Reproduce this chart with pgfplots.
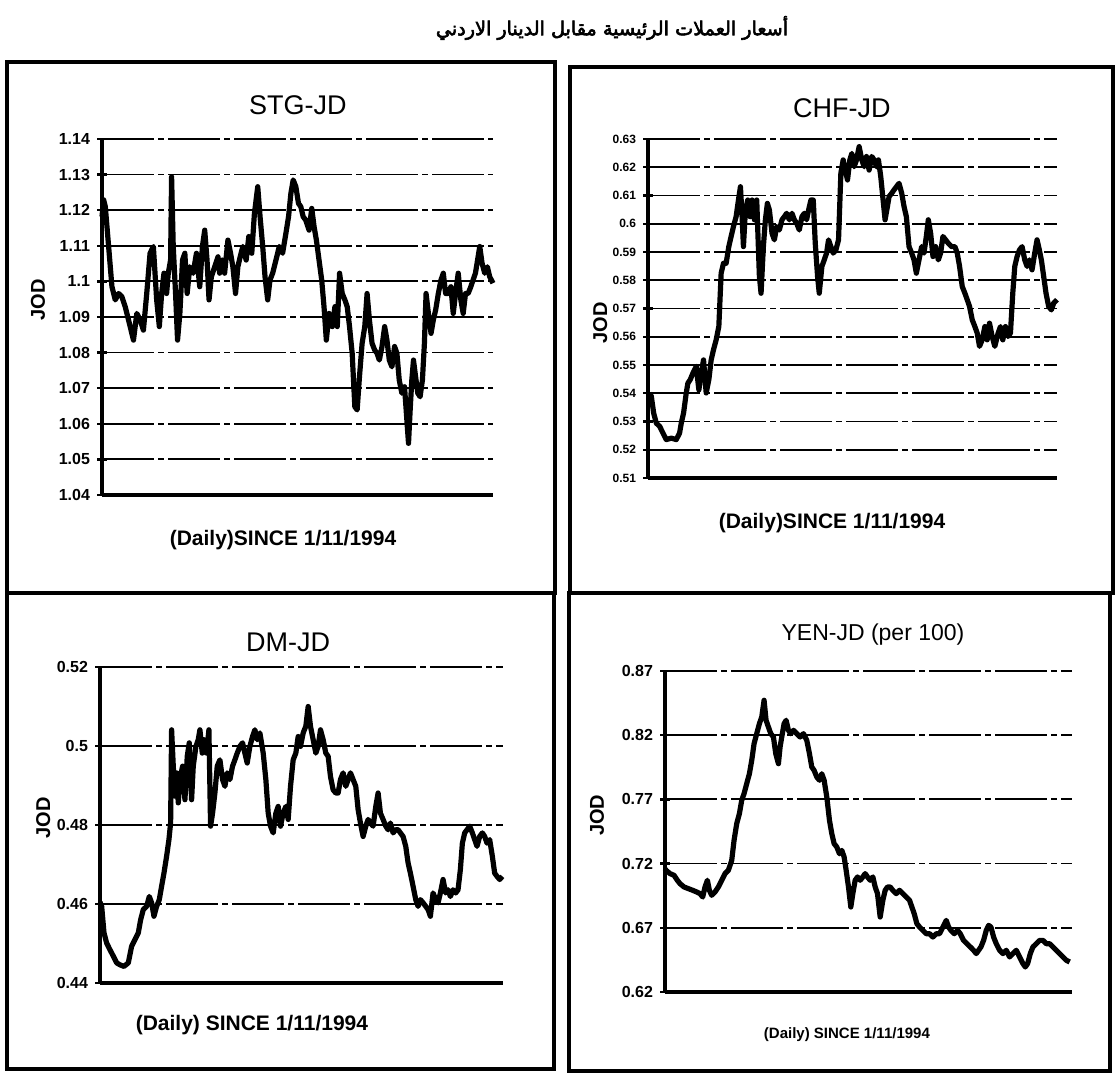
\documentclass[border=0pt]{standalone}
\usepackage{pgfplots}
\pgfplotsset{compat=1.18}
\usepackage{fontspec}
\setmainfont{Liberation Sans}
\newfontfamily\arabicfont[Script=Arabic,FakeBold=3]{DejaVu Sans}
\TeXXeTstate=1
\pgfplotsset{
  panel/.style={
    scale only axis,
    axis x line=bottom, axis y line=left,
    axis line style={-, line width=1.6pt, black},
    xtick=\empty,
    enlargelimits=false,
    ymajorgrids,
    major grid style={black, line width=0.9pt, dash pattern=on 26pt off 2pt on 3pt off 2pt},
    tick align=center,
    major tick length=5pt,
    tick style={black, line width=1.2pt},
    /pgf/number format/assume math mode=true,
    yticklabel style={font=\bfseries\fontsize{8}{9}\selectfont},
    title style={font=\fontsize{13.5}{16}\selectfont, anchor=center, yshift=-6pt},
    xlabel style={font=\bfseries\fontsize{10.5}{12}\selectfont, anchor=center},
    ylabel style={font=\bfseries\fontsize{10}{12}\selectfont, anchor=center},
    ylabel=JOD,
    clip=false,
  },
  series/.style={black, line width=2.6pt, line join=round, no marks},
}
\begin{document}
\begin{tikzpicture}
\useasboundingbox (0,0) rectangle (557.5pt,538.5pt);
% panel frames
\draw[line width=1.8pt] (3.5pt,242pt) rectangle (277.5pt,507.5pt);
\draw[line width=1.8pt] (285pt,242pt) rectangle (556.5pt,505pt);
\draw[line width=1.8pt] (3.5pt,4pt) rectangle (277pt,242pt);
\draw[line width=1.8pt] (284.5pt,3pt) rectangle (555pt,242pt);
\node[font=\arabicfont\fontsize{9.6}{11}\selectfont] at (306pt,524.5pt) {\beginR أسعار العملات الرئيسية مقابل الدينار الاردني\endR};

% STG-JD
\begin{axis}[panel, at={(51pt,291pt)}, anchor=south west,
  width=195.5pt, height=178pt,
  xmin=0, xmax=1180, ymin=1.04, ymax=1.14,
  ytick={1.04,1.05,1.06,1.07,1.08,1.09,1.1,1.11,1.12,1.13,1.14},
  title=STG-JD, title style={at={(axis description cs:0.501,1.096)}},
  xlabel={(Daily)SINCE 1/11/1994}, xlabel style={at={(axis description cs:0.463,-0.126)}},
  ylabel style={at={(axis description cs:-0.164,0.548)}},
]
\addplot[series] coordinates {(0,1.1182)(5,1.1229)(10,1.1210)(15,1.1154)(20,1.1098)(30,1.0985)(40,1.0948)(50,1.0966)(60,1.0957)(70,1.0929)(85,1.0873)(95,1.0835)(105,1.0910)(115,1.0892)(125,1.0863)(135,1.0966)(145,1.1079)(155,1.1098)(165,1.0948)(173,1.0873)(180,1.0966)(187,1.1023)(195,1.0966)(200,1.1023)(207,1.1060)(210,1.1294)(215,1.1098)(222,1.0966)(228,1.0835)(235,1.0910)(243,1.1060)(250,1.1079)(257,1.0966)(265,1.1041)(275,1.1023)(285,1.1079)(295,1.0985)(303,1.1098)(310,1.1144)(317,1.1060)(323,1.0948)(330,1.1013)(340,1.1041)(350,1.1069)(355,1.1023)(363,1.1060)(370,1.1023)(380,1.1116)(388,1.1079)(395,1.1041)(403,1.0966)(410,1.1041)(417,1.1069)(425,1.1098)(435,1.1060)(443,1.1126)(452,1.1079)(460,1.1191)(470,1.1266)(477,1.1182)(485,1.1098)(492,1.1013)(500,1.0948)(507,1.1004)(515,1.1023)(525,1.1060)(535,1.1098)(545,1.1079)(555,1.1135)(563,1.1182)(570,1.1247)(577,1.1285)(585,1.1266)(593,1.1219)(600,1.1210)(607,1.1182)(615,1.1172)(625,1.1144)(633,1.1205)(640,1.1154)(647,1.1116)(655,1.1060)(663,1.1004)(670,1.0929)(677,1.0835)(685,1.0910)(695,1.0873)(703,1.0929)(710,1.0873)(717,1.1023)(725,1.0966)(733,1.0948)(740,1.0929)(747,1.0873)(755,1.0798)(763,1.0648)(770,1.0639)(777,1.0732)(785,1.0826)(793,1.0873)(800,1.0966)(807,1.0892)(815,1.0826)(823,1.0807)(830,1.0798)(837,1.0779)(845,1.0817)(853,1.0873)(860,1.0835)(867,1.0779)(875,1.0760)(883,1.0817)(890,1.0798)(897,1.0723)(905,1.0686)(913,1.0704)(920,1.0611)(925,1.0545)(930,1.0639)(935,1.0723)(940,1.0779)(945,1.0742)(953,1.0686)(960,1.0676)(967,1.0723)(973,1.0826)(978,1.0966)(985,1.0910)(993,1.0854)(1000,1.0892)(1007,1.0920)(1015,1.0966)(1023,1.1004)(1030,1.1023)(1037,1.0966)(1045,1.0966)(1053,1.0985)(1060,1.0910)(1067,1.0966)(1075,1.1023)(1083,1.0948)(1090,1.0910)(1097,1.0966)(1105,1.0966)(1113,1.0985)(1120,1.1004)(1127,1.1023)(1135,1.1069)(1140,1.1098)(1147,1.1051)(1155,1.1023)(1163,1.1041)(1170,1.1013)(1180,1.0995)};
\end{axis}

% CHF-JD
\begin{axis}[panel, at={(324pt,299.5pt)}, anchor=south west,
  width=204.5pt, height=169.5pt,
  xmin=-5, xmax=1225, ymin=0.51, ymax=0.63,
  ytick={0.51,0.52,0.53,0.54,0.55,0.56,0.57,0.58,0.59,0.6,0.61,0.62,0.63},
  yticklabel style={font=\bfseries\fontsize{6}{7}\selectfont},
  title=CHF-JD, title style={at={(axis description cs:0.474,1.091)}},
  xlabel={(Daily)SINCE 1/11/1994}, xlabel style={at={(axis description cs:0.450,-0.133)}},
  ylabel style={at={(axis description cs:-0.117,0.457)}},
]
\addplot[series] coordinates {(0,0.5401)(5,0.5389)(12,0.5330)(20,0.5294)(30,0.5283)(40,0.5259)(50,0.5236)(65,0.5241)(80,0.5236)(90,0.5259)(95,0.5294)(102,0.5330)(110,0.5401)(115,0.5436)(122,0.5448)(130,0.5471)(140,0.5495)(148,0.5412)(155,0.5471)(162,0.5518)(170,0.5401)(178,0.5448)(185,0.5518)(192,0.5554)(200,0.5589)(208,0.5636)(215,0.5825)(222,0.5860)(230,0.5860)(238,0.5919)(245,0.5955)(252,0.5990)(260,0.6025)(267,0.6084)(273,0.6131)(278,0.6025)(282,0.5919)(288,0.6049)(295,0.6084)(302,0.6025)(308,0.6084)(315,0.6014)(322,0.6084)(330,0.5813)(335,0.5754)(342,0.5919)(348,0.6014)(354,0.6072)(360,0.6049)(368,0.5966)(375,0.5943)(382,0.5990)(390,0.5978)(398,0.6014)(405,0.6025)(412,0.6037)(420,0.6014)(428,0.6037)(435,0.6014)(442,0.6002)(450,0.5978)(458,0.6025)(465,0.6037)(472,0.6014)(478,0.6049)(485,0.6084)(492,0.6084)(498,0.5931)(505,0.5813)(510,0.5754)(518,0.5849)(525,0.5872)(532,0.5896)(538,0.5943)(545,0.5919)(552,0.5896)(560,0.5907)(568,0.5943)(575,0.6179)(582,0.6226)(588,0.6190)(595,0.6155)(602,0.6226)(608,0.6249)(615,0.6202)(622,0.6226)(630,0.6273)(638,0.6226)(645,0.6202)(652,0.6238)(660,0.6190)(668,0.6238)(675,0.6226)(682,0.6202)(688,0.6226)(695,0.6167)(702,0.6084)(708,0.6014)(715,0.6061)(720,0.6096)(728,0.6108)(735,0.6120)(742,0.6131)(750,0.6143)(758,0.6108)(765,0.6061)(772,0.6025)(780,0.5919)(788,0.5896)(795,0.5872)(802,0.5825)(810,0.5872)(818,0.5919)(825,0.5896)(832,0.5955)(838,0.6014)(845,0.5966)(852,0.5884)(860,0.5919)(868,0.5872)(875,0.5896)(882,0.5955)(890,0.5943)(898,0.5931)(908,0.5919)(918,0.5919)(925,0.5896)(932,0.5849)(940,0.5778)(948,0.5754)(955,0.5731)(962,0.5707)(970,0.5660)(978,0.5636)(985,0.5613)(992,0.5566)(1000,0.5589)(1008,0.5636)(1015,0.5589)(1022,0.5648)(1030,0.5601)(1038,0.5566)(1048,0.5613)(1055,0.5636)(1062,0.5589)(1070,0.5636)(1078,0.5601)(1085,0.5613)(1092,0.5754)(1098,0.5849)(1105,0.5884)(1112,0.5907)(1120,0.5919)(1128,0.5872)(1135,0.5849)(1142,0.5872)(1150,0.5837)(1158,0.5896)(1165,0.5943)(1172,0.5907)(1178,0.5872)(1185,0.5813)(1192,0.5754)(1200,0.5707)(1208,0.5695)(1215,0.5719)(1225,0.5731)};
\end{axis}

% DM-JD
\begin{axis}[panel, at={(50pt,47pt)}, anchor=south west,
  width=201.5pt, height=158pt,
  xmin=0, xmax=1210, ymin=0.44, ymax=0.52,
  ytick={0.44,0.46,0.48,0.5,0.52},
  title=DM-JD, title style={at={(axis description cs:0.467,1.079)}},
  xlabel={(Daily) SINCE 1/11/1994}, xlabel style={at={(axis description cs:0.377,-0.133)}},
  ylabel style={at={(axis description cs:-0.141,0.522)}},
]
\addplot[series] coordinates {(0,0.4605)(5,0.4594)(12,0.4527)(20,0.4501)(30,0.4484)(40,0.4468)(50,0.4451)(60,0.4446)(72,0.4442)(85,0.4451)(95,0.4493)(105,0.4510)(115,0.4527)(122,0.4560)(130,0.4586)(140,0.4594)(148,0.4619)(155,0.4603)(162,0.4569)(170,0.4594)(178,0.4611)(185,0.4645)(192,0.4678)(200,0.4721)(207,0.4763)(212,0.4805)(215,0.5041)(220,0.4949)(225,0.4873)(230,0.4932)(235,0.4856)(240,0.4915)(248,0.4949)(255,0.4864)(262,0.4974)(268,0.5008)(275,0.4864)(280,0.4949)(288,0.4999)(295,0.5016)(300,0.5041)(307,0.4982)(312,0.5016)(320,0.4982)(327,0.5041)(332,0.4797)(338,0.4830)(345,0.4881)(352,0.4949)(360,0.4965)(368,0.4915)(375,0.4898)(382,0.4932)(390,0.4915)(398,0.4949)(405,0.4965)(412,0.4982)(420,0.4999)(428,0.5008)(435,0.4982)(442,0.4957)(450,0.4999)(458,0.5024)(465,0.5041)(472,0.5016)(480,0.5033)(490,0.4982)(498,0.4915)(505,0.4830)(512,0.4797)(520,0.4780)(528,0.4830)(535,0.4847)(542,0.4797)(550,0.4830)(558,0.4847)(565,0.4814)(572,0.4898)(580,0.4965)(588,0.4982)(595,0.5024)(602,0.4999)(610,0.5033)(618,0.5050)(625,0.5100)(632,0.5050)(640,0.5016)(648,0.4982)(655,0.4999)(662,0.5041)(670,0.5016)(678,0.4982)(685,0.4974)(692,0.4923)(700,0.4889)(708,0.4881)(715,0.4881)(722,0.4915)(730,0.4932)(738,0.4898)(745,0.4915)(752,0.4932)(760,0.4915)(768,0.4898)(775,0.4839)(782,0.4805)(790,0.4771)(798,0.4797)(805,0.4814)(812,0.4805)(820,0.4797)(828,0.4847)(835,0.4881)(842,0.4830)(850,0.4814)(858,0.4797)(865,0.4788)(872,0.4805)(880,0.4780)(888,0.4788)(895,0.4788)(902,0.4780)(910,0.4771)(918,0.4746)(925,0.4704)(932,0.4678)(940,0.4645)(948,0.4611)(955,0.4594)(962,0.4611)(970,0.4603)(978,0.4594)(985,0.4586)(992,0.4569)(1000,0.4628)(1008,0.4611)(1015,0.4603)(1022,0.4628)(1030,0.4662)(1038,0.4628)(1045,0.4636)(1052,0.4619)(1060,0.4636)(1068,0.4628)(1075,0.4636)(1082,0.4687)(1088,0.4754)(1095,0.4780)(1102,0.4788)(1110,0.4797)(1118,0.4780)(1125,0.4763)(1132,0.4746)(1140,0.4771)(1148,0.4780)(1155,0.4771)(1162,0.4754)(1170,0.4763)(1178,0.4721)(1185,0.4678)(1192,0.4670)(1200,0.4662)(1208,0.4670)};
\end{axis}

% YEN-JD
\begin{axis}[panel, at={(332.5pt,42.5pt)}, anchor=south west,
  width=203.5pt, height=160.5pt,
  xmin=0, xmax=1220, ymin=0.62, ymax=0.87,
  ytick={0.62,0.67,0.72,0.77,0.82,0.87},
  title={YEN-JD (per 100)}, title style={font=\fontsize{11.5}{13}\selectfont, at={(axis description cs:0.511,1.112)}},
  xlabel={(Daily) SINCE 1/11/1994}, xlabel style={font=\bfseries\fontsize{7.5}{9}\selectfont, at={(axis description cs:0.447,-0.134)}},
  ylabel style={at={(axis description cs:-0.167,0.551)}},
]
\addplot[series] coordinates {(0,0.7160)(3,0.7148)(15,0.7122)(27,0.7109)(37,0.7070)(45,0.7044)(57,0.7018)(70,0.7005)(83,0.6992)(95,0.6979)(105,0.6966)(113,0.6940)(120,0.7018)(127,0.7070)(133,0.6992)(140,0.6953)(150,0.6979)(160,0.7018)(170,0.7070)(180,0.7122)(190,0.7148)(200,0.7225)(207,0.7381)(215,0.7511)(223,0.7589)(230,0.7693)(237,0.7745)(245,0.7823)(253,0.7900)(260,0.8004)(267,0.8134)(275,0.8212)(283,0.8290)(290,0.8342)(297,0.8472)(303,0.8316)(310,0.8264)(317,0.8212)(325,0.8186)(332,0.8056)(340,0.7978)(345,0.8108)(350,0.8186)(357,0.8290)(363,0.8316)(370,0.8238)(377,0.8212)(385,0.8238)(395,0.8212)(405,0.8186)(415,0.8212)(425,0.8160)(433,0.8056)(440,0.7952)(447,0.7926)(455,0.7874)(463,0.7849)(470,0.7900)(477,0.7849)(485,0.7719)(493,0.7537)(500,0.7433)(507,0.7355)(515,0.7329)(523,0.7277)(530,0.7303)(537,0.7251)(543,0.7148)(550,0.7018)(557,0.6862)(563,0.6966)(570,0.7070)(577,0.7096)(585,0.7070)(593,0.7096)(600,0.7122)(607,0.7096)(615,0.7070)(623,0.7096)(630,0.7018)(637,0.6966)(645,0.6784)(653,0.6914)(660,0.6992)(667,0.7018)(675,0.7018)(683,0.6992)(693,0.6966)(703,0.6992)(713,0.6966)(723,0.6940)(733,0.6914)(740,0.6862)(747,0.6810)(755,0.6732)(763,0.6706)(773,0.6680)(783,0.6654)(793,0.6654)(803,0.6628)(813,0.6654)(823,0.6654)(833,0.6706)(843,0.6758)(850,0.6706)(857,0.6680)(867,0.6654)(877,0.6680)(885,0.6654)(895,0.6602)(905,0.6576)(915,0.6551)(925,0.6525)(933,0.6499)(940,0.6525)(947,0.6551)(955,0.6602)(963,0.6680)(970,0.6719)(977,0.6706)(985,0.6628)(993,0.6576)(1003,0.6525)(1013,0.6499)(1023,0.6525)(1033,0.6473)(1043,0.6499)(1053,0.6525)(1063,0.6473)(1073,0.6421)(1080,0.6395)(1087,0.6421)(1095,0.6499)(1103,0.6551)(1113,0.6576)(1123,0.6602)(1133,0.6602)(1143,0.6576)(1153,0.6576)(1163,0.6551)(1173,0.6525)(1183,0.6499)(1193,0.6473)(1203,0.6447)(1213,0.6434)};
\end{axis}
\end{tikzpicture}
\end{document}
